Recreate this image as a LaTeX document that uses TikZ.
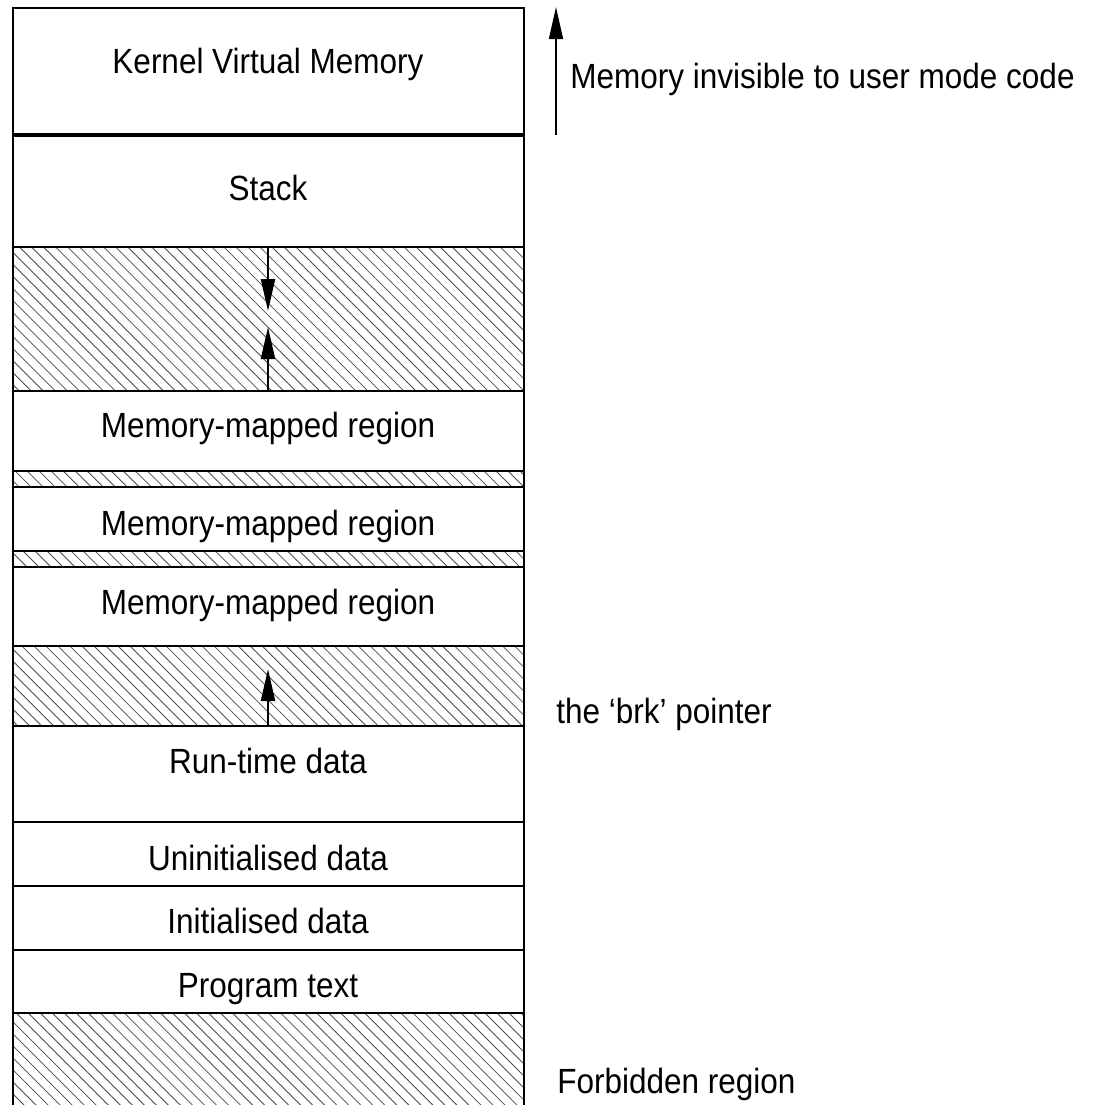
\documentclass[tikz,border=0pt]{standalone}
\usepackage{fontspec}
\setmainfont{Liberation Sans}[FakeStretch=0.9]
\usetikzlibrary{arrows.meta,patterns.meta}
\tikzset{
  region/.style={draw=black, line width=1pt, fill=white},
  hatched/.style={draw=black, line width=1pt,
    pattern={Lines[angle=-45,distance=4.25pt,line width=0.4pt]}, pattern color=black!70},
  label/.style={inner sep=0pt, anchor=base, font=\fontsize{17.5pt}{20pt}\selectfont},
  sidelabel/.style={inner sep=0pt, anchor=base west, font=\fontsize{17.5pt}{20pt}\selectfont},
  growarrow/.style={line width=1.1pt, -{Triangle[length=16pt,width=7pt]}},
  sidearrow/.style={line width=0.8pt, -{Triangle[length=16pt,width=7pt]}},
}
\begin{document}
\begin{tikzpicture}[x=0.5pt,y=-0.5pt]
\useasboundingbox (0,0) rectangle (1097,1105);
% regions
\draw[region] (12.5,8) rectangle (523.5,135);
\draw[region] (12.5,135) rectangle (523.5,247);
\draw[hatched] (12.5,247) rectangle (523.5,391);
\draw[region] (12.5,391) rectangle (523.5,471);
\draw[hatched] (12.5,471) rectangle (523.5,487);
\draw[region] (12.5,487) rectangle (523.5,551);
\draw[hatched] (12.5,551) rectangle (523.5,567);
\draw[region] (12.5,567) rectangle (523.5,646);
\draw[hatched] (12.5,646) rectangle (523.5,726);
\draw[region] (12.5,726) rectangle (523.5,822);
\draw[region] (12.5,822) rectangle (523.5,886);
\draw[region] (12.5,886) rectangle (523.5,950);
\draw[region] (12.5,950) rectangle (523.5,1013);
\draw[hatched] (12.5,1013) rectangle (523.5,1115);
\draw[line width=1.7pt] (12.5,135) -- (523.5,135);
% labels
\node[label] (kvm) at (268,73) {Kernel Virtual Memory};
\node[label] (stack) at (268,200) {Stack};
\node[label] (mmr1) at (268,437) {Memory-mapped region};
\node[label] (mmr2) at (268,535) {Memory-mapped region};
\node[label] (mmr3) at (268,614) {Memory-mapped region};
\node[label] (rtd) at (268,773) {Run-time data};
\node[label] (uninit) at (268,870) {Uninitialised data};
\node[label] (init) at (268,933) {Initialised data};
\node[label] (prog) at (268,997) {Program text};
\node[sidelabel] (invis) at (570,88) {Memory invisible to user mode code};
\node[sidelabel] (brk) at (556,723) {the ‘brk’ pointer};
\node[sidelabel] (forb) at (557,1093) {Forbidden region};
% arrows
\coordinate (stacktop) at (268,247);
\coordinate (stacktip) at (268,311);
\coordinate (mmbase) at (268,391);
\coordinate (mmtip) at (268,327);
\coordinate (brkbase) at (268,726);
\coordinate (brktip) at (268,669);
\coordinate (invbase) at (556,135);
\coordinate (invtip) at (556,7);
\draw[growarrow] (stacktop) -- (stacktip);
\draw[growarrow] (mmbase) -- (mmtip);
\draw[growarrow] (brkbase) -- (brktip);
\draw[sidearrow] (invbase) -- (invtip);
\end{tikzpicture}
\end{document}
